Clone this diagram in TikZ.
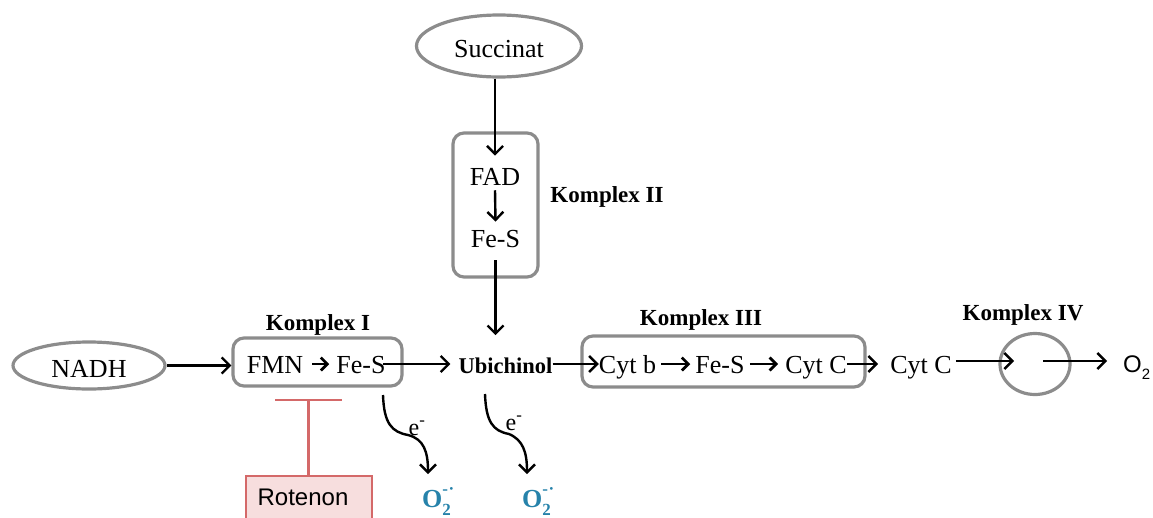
\documentclass[tikz,border=0pt]{standalone}
\usepackage{fontspec}
\setmainfont{Liberation Serif}
\newfontfamily\sansf{Liberation Sans}
\usetikzlibrary{arrows.meta,shapes.geometric}
\definecolor{boxgray}{RGB}{140,140,140}
\definecolor{inhred}{RGB}{212,105,105}
\definecolor{inhfill}{RGB}{247,222,222}
\definecolor{oxblue}{RGB}{38,130,170}
\newcommand{\superox}{\textbf{O}\rlap{\raisebox{-0.32em}{\fontsize{17}{17}\selectfont\bfseries 2}}\raisebox{0.48em}{\fontsize{17}{17}\selectfont\bfseries -\kern0.5pt·}}
\begin{document}
\begin{tikzpicture}[x=1pt,y=-1pt,
  txt/.style={inner sep=0pt,anchor=base,font=\fontsize{26}{30}\selectfont},
  lbl/.style={inner sep=0pt,anchor=base,font=\fontsize{23}{27}\selectfont\bfseries},
  cbox/.style={draw=boxgray,line width=3.2pt,rounded corners=11pt,inner sep=0pt},
  oval/.style={ellipse,draw=boxgray,line width=3.2pt,inner sep=0pt},
  arr/.style={draw=black,line width=2.4pt,-{Straight Barb[length=8pt,width=16pt]}},
  sarr/.style={draw=black,line width=2.8pt,-{Straight Barb[length=6.5pt,width=13pt]}},
  redbox/.style={draw=inhred,fill=inhfill,line width=2pt,inner sep=0pt},
  redline/.style={draw=inhred,line width=2.3pt},
  etxt/.style={inner sep=0pt,anchor=base,font=\fontsize{24}{28}\selectfont},
  oxtxt/.style={inner sep=0pt,anchor=base west,text=oxblue,font=\fontsize{26}{30}\selectfont}
]
\useasboundingbox (0,0) rectangle (1153,517);
\clip (0,0) rectangle (1153,517);
\coordinate (row) at (0,364);

% Komplex II
\node[oval,minimum width=165pt,minimum height=62pt] (succ) at (499,46) {};
\node[txt] (succt) at (499,57) {Succinat};
\node[cbox,minimum width=85pt,minimum height=144pt] (k2) at (495.5,205) {};
\node[txt] (fad) at (495,185) {FAD};
\node[txt] (fes2) at (495.5,247) {Fe-S};
\node[lbl] (k2l) at (607,202) {Komplex II};

% Komplex I
\node[oval,minimum width=152pt,minimum height=47pt] (nadh) at (89,365.5) {};
\node[txt] (nadht) at (89,377) {NADH};
\node[cbox,minimum width=169pt,minimum height=48pt] (k1) at (317.5,362) {};
\node[txt] (fmn) at (275,373) {FMN};
\node[txt] (fes1) at (361,373) {Fe-S};
\node[lbl] (k1l) at (318,330) {Komplex I};

% Ubichinol
\node[inner sep=0pt,anchor=base,font=\fontsize{22.5}{26}\selectfont\bfseries] (ubi) at (505.5,373) {Ubichinol};

% Komplex III
\node[cbox,minimum width=283pt,minimum height=51pt] (k3) at (723.5,361.5) {};
\node[txt] (cytb) at (627.5,373) {Cyt b};
\node[txt] (fes3) at (720,373) {Fe-S};
\node[txt] (cytc) at (816,373) {Cyt C};
\node[lbl] (k3l) at (701,325) {Komplex III};

% Komplex IV
\node[txt] (cytc2) at (921,373) {Cyt C};
\node[ellipse,draw=boxgray,line width=3.2pt,minimum width=70pt,minimum height=61pt,inner sep=0pt] (k4) at (1035,364) {};
\node[lbl] (k4l) at (1023,320) {Komplex IV};
\node[inner sep=0pt,anchor=base west,font=\sansf\fontsize{24}{28}\selectfont] (o2) at (1123,372) {O\raisebox{-0.3em}{\fontsize{15}{15}\selectfont 2}};

% Rotenon
\node[redbox,minimum width=126pt,minimum height=60pt,anchor=north] (rot) at (308.5,475) {};
\node[inner sep=0pt,anchor=base,font=\sansf\fontsize{24}{28}\selectfont] (rott) at (303,505) {Rotenon};
\coordinate (inh) at (308.5,400);
\draw[redline] (rot.north) -- (inh);
\draw[redline] ([xshift=-33.5pt]inh) -- ([xshift=33.5pt]inh);

% superoxide
\node[oxtxt] (ox1) at (422,507) {\superox};
\node[oxtxt] (ox2) at (522,507) {\superox};

% main arrows
\draw[arr] (succ.south -| fad.north) -- ([yshift=12pt]fad.north);
\draw[arr] ([yshift=-5pt]fad.south) -- ([yshift=8pt]fes2.north);
\draw[arr] ([yshift=-13pt]fes2.south) -- ([yshift=22pt]fes2.south |- ubi.north);
\draw[arr] (nadh.east) -- (k1.west |- nadh.east);
\draw[sarr] ([xshift=9pt]fmn.east |- row) -- ([xshift=-7pt]fes1.west |- row);
\draw[arr] ([xshift=-3pt]fes1.east |- row) -- ([xshift=-8pt]ubi.west |- row);
\draw[arr] (ubi.east |- row) -- (cytb.west |- row);
\draw[sarr] ([xshift=5pt]cytb.east |- row) -- ([xshift=-5pt]fes3.west |- row);
\draw[sarr] ([xshift=5pt]fes3.east |- row) -- ([xshift=-7pt]cytc.west |- row);
\draw[arr] (cytc.east |- row) -- ([xshift=-12pt]cytc2.west |- row);
\draw[arr] ([xshift=4pt,yshift=3pt]cytc2.east |- k4.center) -- ([xshift=-21pt,yshift=3pt]k4.center);
\draw[arr] ([xshift=8pt,yshift=3pt]k4.center) -- ([xshift=-16pt,yshift=3pt]o2.west |- k4.center);

% electron leaks
\coordinate (e1s) at (383,395);
\coordinate (e1m) at (408,435);
\coordinate (e1t) at (428,474);
\draw[arr] (e1s) .. controls (384,424) and (392,432) .. (e1m) .. controls (424,439) and (428,452) .. (e1t);
\node[etxt] (e1) at (417,435) {e\textsuperscript{-}};
\coordinate (e2s) at (485,394);
\coordinate (e2m) at (509,434);
\coordinate (e2t) at (527,474);
\draw[arr] (e2s) .. controls (486,422) and (493,431) .. (e2m) .. controls (523,440) and (527,452) .. (e2t);
\node[etxt] (e2) at (514,430) {e\textsuperscript{-}};
\end{tikzpicture}
\end{document}
